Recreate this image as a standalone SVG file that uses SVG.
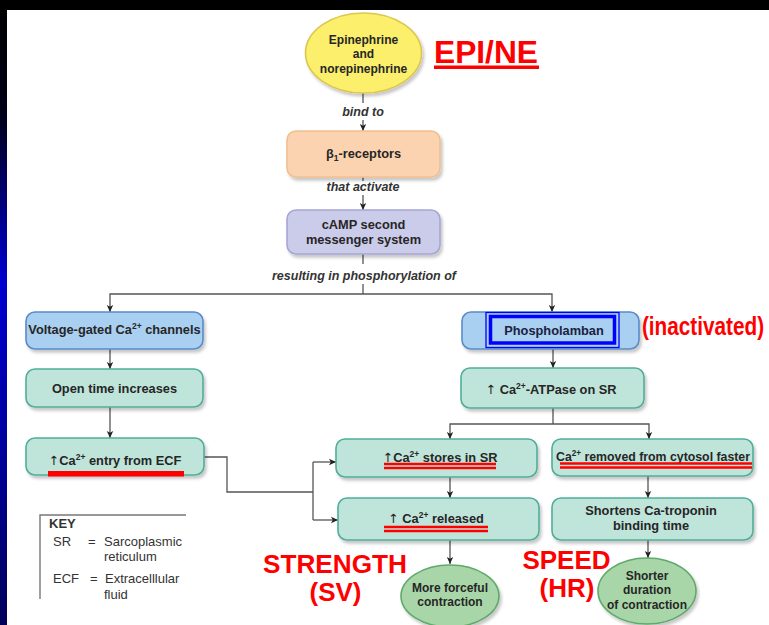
<svg xmlns="http://www.w3.org/2000/svg" width="769" height="625" viewBox="0 0 769 625">
<defs>
<linearGradient id="strip" x1="0" y1="0" x2="0" y2="1">
<stop offset="0" stop-color="#000000"/>
<stop offset="0.18" stop-color="#000018"/>
<stop offset="0.45" stop-color="#0000d0"/>
<stop offset="0.7" stop-color="#0000a0"/>
<stop offset="1" stop-color="#00005a"/>
</linearGradient>
<filter id="sh" x="-10%" y="-10%" width="125%" height="140%">
<feDropShadow dx="2" dy="3" stdDeviation="1.6" flood-color="#000" flood-opacity="0.22"/>
</filter>
<marker id="ah" markerWidth="8" markerHeight="8" refX="7" refY="4" orient="auto" markerUnits="userSpaceOnUse">
<path d="M0,0.8 L7,4 L0,7.2 L1.8,4 Z" fill="#222"/>
</marker>
</defs>
<style>
.lbl{font-family:"Liberation Sans",Arial,sans-serif;font-weight:bold;font-size:12.8px;fill:#262626;text-anchor:middle}
.sm{font-size:12px}
.ital{font-family:"Liberation Sans",Arial,sans-serif;font-weight:bold;font-style:italic;font-size:12.5px;fill:#333;text-anchor:middle}
.red{font-family:"Liberation Sans",Arial,sans-serif;font-weight:bold;fill:#ff0000;text-anchor:middle}
.key{font-family:"Liberation Sans",Arial,sans-serif;font-size:13px;fill:#333}
.teal{fill:#bfe4d9;stroke:#4fae99;stroke-width:1.6}
.blue{fill:#a9cff1;stroke:#5a8bc9;stroke-width:1.6}
.conn{fill:none;stroke:#555;stroke-width:1.3}
.arr{marker-end:url(#ah)}
.ul{stroke:#ff0000;stroke-width:2.4}
.sup{font-size:8.5px}
.up{font-family:"DejaVu Sans",sans-serif;font-weight:normal}
</style>
<rect x="0" y="0" width="769" height="625" fill="#ffffff"/>
<rect x="0" y="0" width="769" height="10" fill="#000000"/>
<rect x="0" y="0" width="7" height="625" fill="url(#strip)"/>
<rect x="0" y="0" width="7" height="10" fill="#000000"/>

<g id="connectors">
<line class="conn" x1="363" y1="93" x2="363" y2="103"/>
<line class="conn arr" x1="363" y1="120" x2="363" y2="131"/>
<line class="conn" x1="363" y1="177" x2="363" y2="181"/>
<line class="conn arr" x1="363" y1="195" x2="363" y2="210"/>
<line class="conn" x1="363" y1="254" x2="363" y2="264"/>
<line class="conn" x1="363" y1="284" x2="363" y2="294"/>
<polyline class="conn arr" points="363,294 110,294 110,312"/>
<polyline class="conn arr" points="363,294 552,294 552,312"/>
<line class="conn arr" x1="110" y1="349" x2="110" y2="369"/>
<line class="conn arr" x1="110" y1="407" x2="110" y2="438"/>
<polyline class="conn" points="204,457 227,457 227,492 313,492"/>
<line class="conn" x1="313" y1="462" x2="313" y2="520"/>
<line class="conn arr" x1="313" y1="462" x2="336" y2="462"/>
<line class="conn arr" x1="313" y1="520" x2="338" y2="520"/>
<line class="conn arr" x1="553" y1="349" x2="553" y2="368"/>
<line class="conn" x1="553" y1="408" x2="553" y2="424"/>
<polyline class="conn arr" points="553,424 450,424 450,439"/>
<polyline class="conn arr" points="553,424 649,424 649,439"/>
<line class="conn arr" x1="450" y1="477" x2="450" y2="498"/>
<line class="conn arr" x1="648" y1="476" x2="648" y2="498"/>
<line class="conn arr" x1="450" y1="540" x2="450" y2="564"/>
<line class="conn arr" x1="648" y1="540" x2="648" y2="558"/>
</g>

<g id="epi">
<ellipse cx="363.5" cy="53" rx="58" ry="40" fill="#fbef6c" stroke="#dcc64e" stroke-width="1.6" filter="url(#sh)"/>
<text class="lbl sm" x="363.5" y="43.5">Epinephrine</text>
<text class="lbl sm" x="363.5" y="57.5">and</text>
<text class="lbl sm" x="363.5" y="73">norepinephrine</text>
</g>
<g id="epi-ne-label">
<text class="red" x="486" y="63" font-size="32" textLength="104" lengthAdjust="spacingAndGlyphs">EPI/NE</text>
<rect x="434" y="65.5" width="105" height="3.5" fill="#ff0000"/>
</g>
<text class="ital" x="363" y="116">bind to</text>
<g id="beta1">
<rect x="287" y="131" width="153" height="46" rx="9" fill="#fcd3b0" stroke="#efc08f" stroke-width="1.6" filter="url(#sh)"/>
<text class="lbl" x="363.5" y="157.5">β<tspan class="sup" dy="3">1</tspan><tspan dy="-3">-receptors</tspan></text>
</g>
<text class="ital" x="363" y="191">that activate</text>
<g id="camp">
<rect x="287" y="210" width="153" height="44" rx="9" fill="#cbcbea" stroke="#a6a6d6" stroke-width="1.6" filter="url(#sh)"/>
<text class="lbl" x="363.5" y="229">cAMP second</text>
<text class="lbl" x="363.5" y="244">messenger system</text>
</g>
<text class="ital" x="364" y="280">resulting in phosphorylation of</text>

<g id="voltage">
<rect class="blue" x="26" y="312" width="177" height="37" rx="9" filter="url(#sh)"/>
<text class="lbl" x="114.5" y="334" font-size="12.4">Voltage-gated Ca<tspan class="sup" dy="-5">2+</tspan><tspan dy="5"> channels</tspan></text>
</g>
<g id="opentime">
<rect class="teal" x="26" y="369" width="177" height="38" rx="9" filter="url(#sh)"/>
<text class="lbl" x="114.5" y="393">Open time increases</text>
</g>
<g id="entry">
<rect class="teal" x="26" y="438" width="178" height="37" rx="9" filter="url(#sh)"/>
<text class="lbl" x="115" y="465"><tspan class="up">↑</tspan>Ca<tspan class="sup" dy="-5">2+</tspan><tspan dy="5"> entry from ECF</tspan></text>
<rect x="48" y="471" width="136" height="5.5" fill="#ff0000"/>
</g>

<g id="phospholamban">
<rect class="blue" x="462" y="312" width="177" height="37" rx="9" filter="url(#sh)"/>
<rect x="486" y="312.5" width="133" height="35" fill="none" stroke="#0000ff" stroke-width="1.3"/>
<rect x="490.5" y="316.5" width="124" height="26.5" fill="none" stroke="#0000ff" stroke-width="3.5"/>
<text class="lbl" x="554" y="335" style="fill:#1b2140">Phospholamban</text>
</g>
<text class="red" transform="translate(703,335) scale(0.83,1)" x="0" y="0" font-size="25">(inactivated)</text>

<g id="atpase">
<rect class="teal" x="461" y="368" width="183" height="40" rx="9" filter="url(#sh)"/>
<text class="lbl" x="551" y="394"><tspan class="up">↑</tspan> Ca<tspan class="sup" dy="-5">2+</tspan><tspan dy="5">-ATPase on SR</tspan></text>
</g>

<g id="stores">
<rect class="teal" x="336" y="439" width="201" height="38" rx="9" filter="url(#sh)"/>
<text class="lbl" x="440" y="462"><tspan class="up">↑</tspan>Ca<tspan class="sup" dy="-5">2+</tspan><tspan dy="5"> stores in SR</tspan></text>
<line class="ul" x1="384" y1="464" x2="496" y2="464"/>
<line class="ul" x1="384" y1="468" x2="496" y2="468"/>
</g>
<g id="removed">
<rect class="teal" x="552" y="439" width="201" height="37" rx="9" filter="url(#sh)"/>
<text class="lbl" x="653" y="461" textLength="194" lengthAdjust="spacingAndGlyphs">Ca<tspan class="sup" dy="-5">2+</tspan><tspan dy="5"> removed from cytosol faster</tspan></text>
<line class="ul" x1="560" y1="463.5" x2="752" y2="463.5"/>
<line class="ul" x1="560" y1="467.5" x2="752" y2="467.5"/>
</g>
<g id="released">
<rect class="teal" x="338" y="498" width="201" height="42" rx="9" filter="url(#sh)"/>
<text class="lbl" x="436" y="523"><tspan class="up">↑</tspan> Ca<tspan class="sup" dy="-5">2+</tspan><tspan dy="5"> released</tspan></text>
<line class="ul" x1="384" y1="527" x2="488" y2="527"/>
<line class="ul" x1="384" y1="531" x2="488" y2="531"/>
</g>
<g id="shortens">
<rect class="teal" x="552" y="498" width="201" height="42" rx="9" filter="url(#sh)"/>
<text class="lbl" x="651" y="515">Shortens Ca-troponin</text>
<text class="lbl" x="651" y="530">binding time</text>
</g>
<g id="forceful">
<ellipse cx="450" cy="596" rx="49" ry="31" fill="#a9d6a8" stroke="#5fa96c" stroke-width="1.6" filter="url(#sh)"/>
<text class="lbl sm" x="450" y="591.5">More forceful</text>
<text class="lbl sm" x="450" y="605.5">contraction</text>
</g>
<g id="shorter">
<ellipse cx="647" cy="591" rx="49" ry="33" fill="#a9d6a8" stroke="#5fa96c" stroke-width="1.6" filter="url(#sh)"/>
<text class="lbl sm" x="647" y="579.5">Shorter</text>
<text class="lbl sm" x="647" y="594">duration</text>
<text class="lbl sm" x="647" y="608.5">of contraction</text>
</g>

<g id="strength-label">
<text class="red" x="335" y="573" font-size="26" textLength="144" lengthAdjust="spacingAndGlyphs">STRENGTH</text>
<text class="red" x="335.5" y="601" font-size="26">(SV)</text>
</g>
<g id="speed-label">
<text class="red" x="566.5" y="569" font-size="26">SPEED</text>
<text class="red" x="567" y="597" font-size="26">(HR)</text>
</g>

<g id="key">
<polyline points="186,515 40,515 40,599" fill="none" stroke="#777" stroke-width="1.4"/>
<text class="key" x="49" y="528" font-weight="bold" font-size="11.5">KEY</text>
<text class="key" x="53" y="546">SR</text>
<text class="key" x="88" y="546">=</text>
<text class="key" x="104" y="546">Sarcoplasmic</text>
<text class="key" x="104" y="561">reticulum</text>
<text class="key" x="53" y="583">ECF</text>
<text class="key" x="90" y="583">=</text>
<text class="key" x="105" y="583">Extracelllular</text>
<text class="key" x="104" y="599">fluid</text>
</g>
</svg>
